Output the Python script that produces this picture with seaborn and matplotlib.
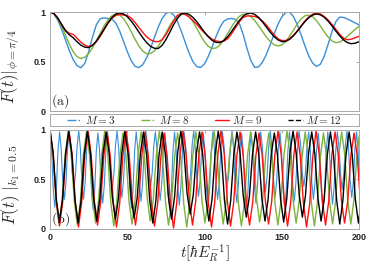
import numpy as np
import matplotlib
matplotlib.use("Agg")
import matplotlib.pyplot as plt
from matplotlib.lines import Line2D
import seaborn as sns

labels = ["$M=3$", "$M=8$", "$M=9$", "$M=12$"]
colors = ["#3a8fd9", "#7db23b", "#ff1010", "#000000"]
xticks = [0, 50, 100, 150, 200]
yticks = [0, 0.5, 1]

# panel (a): F(t) at phi = pi/4, read every 2.5 time units
t_a = np.linspace(0, 200, 81)
a_m3 = [1.0, 0.979, 0.918, 0.826, 0.718, 0.611, 0.519, 0.458, 0.437, 0.481,
        0.598, 0.746, 0.872, 0.933, 0.94, 0.935, 0.931, 0.890, 0.811, 0.708,
        0.601, 0.510, 0.452, 0.438, 0.467, 0.536, 0.631, 0.740, 0.846, 0.932,
        0.986, 1.0, 0.972, 0.904, 0.806, 0.694, 0.586, 0.499, 0.448, 0.44,
        0.477, 0.552, 0.650, 0.754, 0.845, 0.908, 0.93, 0.935, 0.925, 0.885,
        0.775, 0.633, 0.508, 0.44, 0.446, 0.492, 0.570, 0.670, 0.776, 0.873,
        0.950, 0.993, 1.0, 0.955, 0.875, 0.770, 0.658, 0.556, 0.483, 0.451,
        0.472, 0.553, 0.674, 0.802, 0.902, 0.949, 0.945, 0.93, 0.91, 0.89,
        0.87]
a_m8 = [1.0, 0.982, 0.931, 0.855, 0.765, 0.675, 0.599, 0.548, 0.53, 0.543,
        0.580, 0.638, 0.709, 0.786, 0.859, 0.920, 0.961, 0.98, 0.971, 0.934,
        0.876, 0.803, 0.726, 0.658, 0.606, 0.579, 0.580, 0.606, 0.654, 0.717,
        0.789, 0.860, 0.921, 0.966, 0.988, 0.985, 0.955, 0.902, 0.834, 0.763,
        0.699, 0.653, 0.631, 0.637, 0.667, 0.718, 0.782, 0.849, 0.910, 0.955,
        0.978, 0.976, 0.954, 0.914, 0.862, 0.805, 0.748, 0.702, 0.670, 0.657,
        0.667, 0.701, 0.754, 0.816, 0.878, 0.930, 0.962, 0.969, 0.952, 0.913,
        0.859, 0.800, 0.747, 0.708, 0.69, 0.697, 0.72, 0.755, 0.79, 0.825,
        0.855]
a_m9 = [1.0, 0.985, 0.94, 0.875, 0.815, 0.785, 0.775, 0.735, 0.695, 0.665,
        0.652, 0.665, 0.70, 0.755, 0.82, 0.885, 0.935, 0.965, 0.975, 0.97,
        0.965, 0.94, 0.895, 0.845, 0.795, 0.75, 0.72, 0.703, 0.70, 0.72,
        0.77, 0.84, 0.91, 0.965, 0.985, 0.975, 0.95, 0.915, 0.875, 0.83,
        0.79, 0.755, 0.725, 0.708, 0.70, 0.705, 0.73, 0.78, 0.84, 0.90,
        0.945, 0.96, 0.96, 0.955, 0.94, 0.91, 0.87, 0.82, 0.77, 0.73,
        0.712, 0.712, 0.73, 0.765, 0.81, 0.86, 0.91, 0.95, 0.978, 0.988,
        0.98, 0.955, 0.92, 0.875, 0.825, 0.775, 0.735, 0.72, 0.725, 0.74,
        0.755]
a_m12 = [1.0, 0.985, 0.94, 0.875, 0.81, 0.77, 0.74, 0.70, 0.665, 0.645,
         0.64, 0.663, 0.706, 0.764, 0.828, 0.891, 0.943, 0.978, 0.99, 0.981,
         0.953, 0.910, 0.857, 0.798, 0.741, 0.692, 0.654, 0.634, 0.631, 0.662,
         0.72, 0.794, 0.872, 0.937, 0.979, 0.99, 0.976, 0.946, 0.902, 0.850,
         0.796, 0.749, 0.713, 0.693, 0.691, 0.712, 0.751, 0.803, 0.859, 0.914,
         0.957, 0.984, 0.99, 0.976, 0.945, 0.900, 0.849, 0.797, 0.752, 0.719,
         0.701, 0.703, 0.723, 0.758, 0.804, 0.854, 0.903, 0.943, 0.970, 0.98,
         0.972, 0.947, 0.908, 0.86, 0.808, 0.76, 0.718, 0.691, 0.68, 0.685,
         0.70]

# panel (b): F(t) at k1 = 0.5, six readings per oscillation
period_m3, period_m8, period_m9, period_m12 = 6.2, 11.8, 12.3, 12.1
b_m3 = [1.00, 0.80, 0.41, 0.22, 0.41, 0.79, 0.98, 0.81, 0.47, 0.30, 0.47, 0.81,
        0.98, 0.84, 0.56, 0.42, 0.56, 0.84, 0.99, 0.82, 0.47, 0.30, 0.47, 0.81,
        0.98, 0.79, 0.39, 0.20, 0.39, 0.79, 0.97, 0.80, 0.44, 0.26, 0.44, 0.80,
        0.98, 0.83, 0.55, 0.40, 0.55, 0.84, 0.99, 0.82, 0.49, 0.32, 0.48, 0.81,
        0.97, 0.79, 0.40, 0.21, 0.40, 0.79, 0.98, 0.81, 0.46, 0.28, 0.46, 0.81,
        0.99, 0.85, 0.57, 0.43, 0.57, 0.84, 0.98, 0.81, 0.46, 0.29, 0.46, 0.80,
        0.97, 0.78, 0.38, 0.19, 0.38, 0.78, 0.98, 0.80, 0.43, 0.24, 0.43, 0.80,
        0.98, 0.83, 0.54, 0.39, 0.55, 0.84, 0.99, 0.82, 0.50, 0.33, 0.49, 0.81,
        0.97, 0.79, 0.41, 0.23, 0.41, 0.79, 0.98, 0.81, 0.47, 0.30, 0.47, 0.81,
        0.98, 0.84, 0.57, 0.44, 0.56, 0.84, 0.99, 0.81, 0.45, 0.27, 0.45, 0.80,
        0.97, 0.78, 0.39, 0.20, 0.38, 0.78, 0.97, 0.80, 0.44, 0.26, 0.44, 0.80,
        0.98, 0.83, 0.54, 0.38, 0.54, 0.83, 0.99, 0.82, 0.49, 0.32, 0.49, 0.82,
        0.98, 0.79, 0.40, 0.21, 0.40, 0.79, 0.98, 0.81, 0.46, 0.28, 0.46, 0.81,
        0.99, 0.85, 0.57, 0.43, 0.57, 0.84, 0.98, 0.81, 0.47, 0.30, 0.47, 0.80,
        0.97, 0.78, 0.38, 0.19, 0.38, 0.78, 0.98, 0.80, 0.43, 0.25, 0.43, 0.80,
        0.98, 0.83, 0.55, 0.40, 0.55, 0.84, 0.99, 0.82, 0.49, 0.32, 0.48, 0.81,
        0.98, 0.79, 0.40]
b_m8 = [1.00, 0.76, 0.29, 0.05, 0.29, 0.75, 0.99, 0.75, 0.28, 0.04, 0.28, 0.75,
        0.98, 0.75, 0.30, 0.06, 0.29, 0.75, 0.99, 0.75, 0.27, 0.03, 0.28, 0.74,
        0.97, 0.74, 0.28, 0.05, 0.29, 0.75, 0.98, 0.76, 0.31, 0.08, 0.30, 0.75,
        0.99, 0.75, 0.28, 0.04, 0.26, 0.73, 0.97, 0.73, 0.26, 0.02, 0.27, 0.74,
        0.98, 0.75, 0.29, 0.06, 0.29, 0.75, 0.99, 0.75, 0.29, 0.05, 0.28, 0.73,
        0.96, 0.73, 0.26, 0.03, 0.27, 0.74, 0.98, 0.75, 0.30, 0.07, 0.29, 0.75,
        0.97, 0.74, 0.27, 0.04, 0.28, 0.75, 0.99, 0.76, 0.29, 0.06, 0.28, 0.74,
        0.98, 0.74, 0.27, 0.03, 0.27, 0.73, 0.97, 0.74, 0.28, 0.05, 0.28, 0.74,
        0.98, 0.75, 0.28, 0.05, 0.29, 0.75, 0.99]
b_m9 = [1.00, 0.76, 0.27, 0.03, 0.27, 0.75, 0.99, 0.75, 0.27, 0.02, 0.27, 0.75,
        0.99, 0.75, 0.28, 0.04, 0.27, 0.74, 0.98, 0.74, 0.26, 0.02, 0.26, 0.74,
        0.99, 0.75, 0.28, 0.04, 0.28, 0.75, 0.98, 0.74, 0.27, 0.03, 0.26, 0.73,
        0.97, 0.73, 0.25, 0.01, 0.26, 0.74, 0.99, 0.75, 0.28, 0.04, 0.28, 0.75,
        0.98, 0.74, 0.26, 0.02, 0.27, 0.75, 1.00, 0.76, 0.28, 0.03, 0.27, 0.74,
        0.98, 0.74, 0.27, 0.04, 0.27, 0.74, 0.97, 0.74, 0.28, 0.05, 0.28, 0.75,
        0.99, 0.75, 0.27, 0.03, 0.27, 0.75, 0.98, 0.74, 0.26, 0.02, 0.26, 0.74,
        0.99, 0.75, 0.28, 0.04, 0.28, 0.75, 0.98, 0.75, 0.29, 0.06, 0.28, 0.74,
        0.97, 0.74, 0.28]
b_m12 = [1.00, 0.77, 0.31, 0.07, 0.30, 0.76, 0.99, 0.76, 0.30, 0.06, 0.30, 0.76,
         0.99, 0.76, 0.31, 0.08, 0.31, 0.76, 0.98, 0.76, 0.32, 0.10, 0.32, 0.76,
         0.99, 0.77, 0.33, 0.11, 0.32, 0.76, 0.98, 0.75, 0.29, 0.06, 0.29, 0.75,
         0.98, 0.76, 0.32, 0.10, 0.33, 0.78, 0.99, 0.78, 0.36, 0.15, 0.35, 0.77,
         0.98, 0.76, 0.31, 0.08, 0.30, 0.76, 0.99, 0.76, 0.29, 0.05, 0.29, 0.75,
         0.98, 0.77, 0.34, 0.12, 0.33, 0.76, 0.98, 0.76, 0.31, 0.08, 0.30, 0.75,
         0.97, 0.75, 0.30, 0.07, 0.31, 0.76, 0.99, 0.77, 0.34, 0.12, 0.34, 0.77,
         0.98, 0.76, 0.31, 0.08, 0.30, 0.75, 0.98, 0.75, 0.29, 0.05, 0.29, 0.75,
         0.98, 0.75, 0.30, 0.06, 0.30]

sns.set_style("white")
plt.rcParams["font.family"] = ["Liberation Sans", "DejaVu Sans"]
plt.rcParams["mathtext.fontset"] = "cm"

fig = plt.figure(figsize=(3.74, 2.64), dpi=100)
ax_a = fig.add_axes([0.1337, 0.5795, 0.8262, 0.375])
ax_leg = fig.add_axes([0.1337, 0.5227, 0.8262, 0.0455])
ax_b = fig.add_axes([0.1337, 0.1326, 0.8262, 0.375])

for vals, c in zip([a_m3, a_m8, a_m9, a_m12], colors):
    sns.lineplot(x=t_a, y=vals, ax=ax_a, color=c, lw=1.0)

b_series = [(b_m3, period_m3, 0.8), (b_m8, period_m8, 1.0),
            (b_m9, period_m9, 1.0), (b_m12, period_m12, 1.0)]
for (vals, per, lw), c in zip(b_series, colors):
    t_b = np.arange(len(vals)) * per / 6
    sns.lineplot(x=t_b, y=vals, ax=ax_b, color=c, lw=lw)

for ax in (ax_a, ax_b):
    ax.set_xlim(0, 200)
    ax.set_ylim(0, 1)
    ax.set_xticks(xticks)
    ax.set_yticks(yticks)
    ax.set_yticklabels(["0", "0.5", "1"])
    ax.tick_params(direction="in", length=2.5, width=0.6, color="#999999",
                   right=True, top=True, labelsize=6.5, pad=3)
    for lab in ax.get_xticklabels() + ax.get_yticklabels():
        lab.set_fontweight("bold")
    for s in ax.spines.values():
        s.set_color("#a8a8a8")
        s.set_linewidth(0.7)
ax_a.set_xticklabels([])

ax_a.set_ylabel(r"$F(t)|_{\phi=\pi/4}$", fontsize=12)
ax_b.set_ylabel(r"$F(t)\ |_{k_1=0.5}$", fontsize=12)
ax_a.yaxis.set_label_coords(-0.09, 0.45)
ax_b.yaxis.set_label_coords(-0.09, 0.45)
ax_b.set_xlabel(r"$t[\hbar E_R^{-1}]$", fontsize=11, va="center")
ax_b.xaxis.set_label_coords(0.5, -0.245)

ax_a.text(0.003, 0.01, r"$\mathrm{(a)}$", transform=ax_a.transAxes,
          fontsize=10, ha="left", va="bottom")
ax_b.text(0.003, 0.01, r"$\mathrm{(b)}$", transform=ax_b.transAxes,
          fontsize=10, ha="left", va="bottom")

# legend strip between the panels
ax_leg.set_xticks([])
ax_leg.set_yticks([])
for s in ax_leg.spines.values():
    s.set_color("#a8a8a8")
    s.set_linewidth(0.7)
styles = ["-.", "-.", "-", "--"]
handles = [Line2D([], [], color=c, ls=ls, lw=1.0) for c, ls in zip(colors, styles)]
ax_leg.legend(handles, labels, loc="center", ncol=4, frameon=False,
              fontsize=8, handlelength=1.3, handletextpad=0.3,
              columnspacing=2.3, borderaxespad=0, borderpad=0)

fig.savefig("out.png", dpi=100)
